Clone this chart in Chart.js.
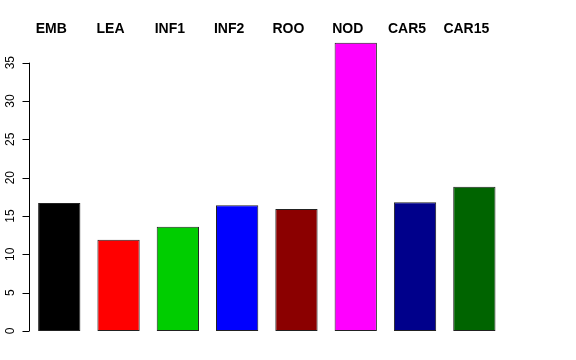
<!DOCTYPE html>
<html>
<head>
<meta charset="utf-8">
<script src="https://cdn.jsdelivr.net/npm/chart.js@4.4.0/dist/chart.umd.min.js"></script>
<style>
  html, body { margin: 0; padding: 0; background: #fff; }
  #wrap { width: 576px; height: 360px; }
</style>
</head>
<body>
<div id="wrap"><canvas id="myChart" width="576" height="360"></canvas></div>
<script>
const labels = ['EMB', 'LEA', 'INF1', 'INF2', 'ROO', 'NOD', 'CAR5', 'CAR15']
const values = [16.7, 11.9, 13.6, 16.4, 15.9, 37.6, 16.8, 18.8]
const colors = ['#000000', '#FF0000', '#00CD00', '#0000FF', '#8B0000', '#FF00FF', '#00008B', '#006400']
const yTicks = [0, 5, 10, 15, 20, 25, 30, 35]

// R-style axis + labels above the plot
const baseAxis = {
  id: 'baseAxis',
  afterDraw(chart) {
    const c = chart.ctx
    const y = chart.scales.y
    const x = chart.scales.x
    const ax = 29.5
    c.save()
    c.strokeStyle = '#000'
    c.lineWidth = 1
    c.beginPath()
    c.moveTo(ax, y.getPixelForValue(yTicks[0]))
    c.lineTo(ax, y.getPixelForValue(yTicks[yTicks.length - 1]))
    yTicks.forEach(t => {
      const py = Math.round(y.getPixelForValue(t)) + 0.5
      c.moveTo(ax, py)
      c.lineTo(ax - 7, py)
    })
    c.stroke()

    c.fillStyle = '#000'
    c.font = '12px "Liberation Sans", Arial, sans-serif'
    c.textAlign = 'center'
    c.textBaseline = 'middle'
    yTicks.forEach(t => {
      c.save()
      c.translate(11, y.getPixelForValue(t))
      c.rotate(-Math.PI / 2)
      c.fillText(String(t), 0, 0)
      c.restore()
    })

    c.font = 'bold 14px "Liberation Sans", Arial, sans-serif'
    labels.forEach((l, i) => {
      c.fillText(l, x.getPixelForValue(i) - 8, 29.5)
    })
    c.restore()
  }
}

const config = {
  type: 'bar',
  data: {
    labels: labels,
    datasets: [{
      data: values,
      backgroundColor: colors,
      borderColor: '#222',
      borderWidth: 1,
      borderSkipped: false,
      barPercentage: 0.713,
      categoryPercentage: 1
    }]
  },
  options: {
    responsive: false,
    animation: false,
    layout: { padding: { left: 29.6, right: 72, top: 32, bottom: 29 } },
    plugins: { legend: { display: false }, tooltip: { enabled: false } },
    scales: {
      x: { display: false },
      y: { display: false, min: 0, max: 39 }
    }
  },
  plugins: [baseAxis]
}

const myChart = new Chart(document.getElementById('myChart'), config)
</script>
</body>
</html>
